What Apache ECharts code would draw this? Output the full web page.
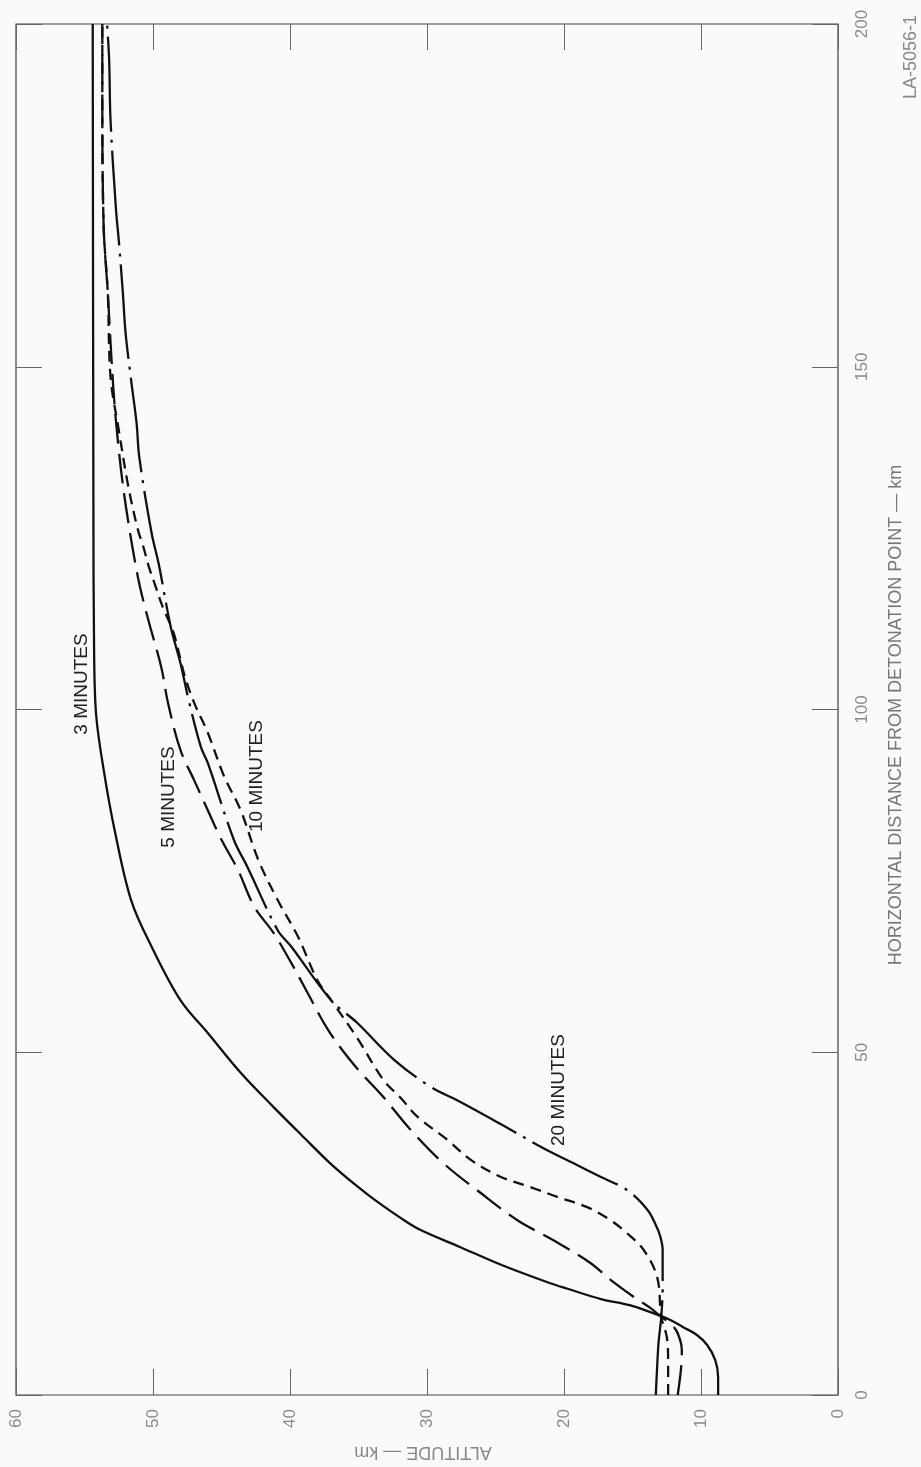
<!DOCTYPE html>
<html><head><meta charset="utf-8">
<script src="https://cdn.jsdelivr.net/npm/echarts@6/dist/echarts.min.js"></script>
<style>html,body{margin:0;padding:0;background:#fafafa}#c{width:921px;height:1467px}</style>
</head><body><div id="c"></div>
<script>
// Axis tick values
const altitudeTicks = [0, 10, 20, 30, 40, 50, 60];        // ALTITUDE — km
const distanceTicks = [0, 50, 100, 150, 200];             // HORIZONTAL DISTANCE — km
const curveLabels = ['3 MINUTES', '5 MINUTES', '10 MINUTES', '20 MINUTES'];

// Each point: [altitude km, horizontal distance km]
const min3 = [[8.75,0],[8.75,2.6],[8.96,5.1],[9.55,7.3],[10.3,8.75],[11.3,9.9],[12.5,11.2],[13.7,12.1],[15.2,13.1],[17.3,14.0],[19.75,15.5],[21.0,16.3],[24.6,19.0],[27.6,21.6],[30.5,24.1],[31.9,25.8],[34.3,29.2],[36.8,33.3],[39.2,38.0],[41.2,42.0],[43.6,47.0],[46.0,52.8],[48.0,57.6],[50.1,65.4],[51.6,72.2],[52.8,82.4],[53.6,91.2],[54.15,99.2],[54.3,108.7],[54.35,130],[54.4,200]];
const min5 = [[11.7,0],[11.45,4],[11.4,6.5],[11.7,9],[12.2,10.4],[12.9,11.4],[13.7,12.7],[14.9,14.3],[16.6,16.8],[18.1,19.3],[20.8,22.6],[23.4,25.5],[26.1,29.5],[28.8,33.8],[31.2,38.7],[33.2,43.5],[35.3,48.1],[37.2,53.2],[38.7,58.6],[39.9,63.0],[41.2,67.4],[42.6,71.2],[43.8,76.6],[45.0,81.0],[46.0,85.3],[47.0,89.7],[48.0,94.1],[48.9,100.9],[49.4,106.2],[50.4,113.5],[51.1,119.3],[51.97,129.5],[52.5,137.9],[52.9,147],[53.3,160.8],[53.6,170.4],[53.7,189],[53.7,200]];
const min10 = [[12.4,0],[12.4,5.1],[12.5,8.5],[12.9,11.4],[13.2,17.2],[14.2,21.2],[15.4,23.6],[16.6,25.5],[18.3,27.4],[20.5,28.9],[22.4,30.3],[24.6,31.8],[26.8,34.3],[28.5,37.2],[30.7,40.6],[31.9,43.3],[33.2,46.0],[35.1,52.1],[37.0,57.6],[38.0,60.5],[39.4,66.8],[40.9,72.2],[42.3,78.0],[43.6,85.3],[44.8,90.2],[46.0,96.6],[47.0,101],[47.7,105],[48.5,111.2],[49.3,115],[49.8,117.9],[50.3,120.8],[50.7,123.7],[51.1,126.2],[51.8,132.5],[52.5,140.8],[53.1,148.5],[53.3,160.8],[53.6,170.4],[53.7,189],[53.7,200]];
const min20 = [[13.3,0],[13.2,4.1],[13.1,7.6],[12.9,11.4],[12.8,15.8],[12.8,21.2],[13.0,23.3],[13.3,24.8],[13.9,27.0],[15.4,29.9],[17.3,31.8],[19.3,33.8],[21.5,36.0],[24.6,39.5],[27.8,43.0],[29.7,44.9],[32.4,48.9],[35.1,54.3],[37.0,57.6],[39.9,65.4],[40.9,67.8],[43.1,77.0],[44.1,81],[46.0,92.2],[46.5,94.5],[47.4,101.4],[48.0,106.8],[48.7,112],[49.6,121.4],[50.1,125.7],[51.0,136.8],[51.2,141.8],[51.6,148.1],[52.0,154.9],[52.2,160.8],[52.5,168.5],[52.7,172.9],[53.1,186],[53.2,194.7],[53.35,200]];

const FONT = 'Liberation Sans, Arial, sans-serif';
const chart = echarts.init(document.getElementById('c'), null, {renderer: 'canvas'});

const altMin = altitudeTicks[0], altMax = altitudeTicks[altitudeTicks.length - 1];
const altInt = altitudeTicks[1] - altitudeTicks[0];
const disMin = distanceTicks[0], disMax = distanceTicks[distanceTicks.length - 1];
const disInt = distanceTicks[1] - distanceTicks[0];

const tickStyle = {show: true, inside: true, length: 26, lineStyle: {color: '#666', width: 1}};
const noLine = {show: false, onZero: false};
const labelStyle = {color: '#8a8a8a', fontSize: 17, fontFamily: FONT};

function lineSeries(name, data, type) {
  return {
    name, type: 'line', data, xAxisIndex: 0, yAxisIndex: 0,
    showSymbol: false, smooth: 0.35, animation: false,
    lineStyle: {color: '#111', width: 2.3, type: type, cap: 'butt'}
  };
}
function txt(text, x, y, rot, size, color) {
  return {type: 'text', x, y, rotation: rot, silent: true,
    style: {text, fontSize: size, fontFamily: FONT, fill: color, align: 'center', verticalAlign: 'middle'}};
}

chart.setOption({
  backgroundColor: '#fafafa',
  animation: false,
  grid: {left: 16, right: 83, top: 24, bottom: 72, show: true, borderColor: '#444', borderWidth: 1.2, backgroundColor: 'transparent'},
  xAxis: [
    {type: 'value', position: 'bottom', inverse: true, min: altMin, max: altMax, interval: altInt,
     axisLine: noLine, splitLine: {show: false}, axisTick: tickStyle,
     axisLabel: Object.assign({rotate: 90, margin: 14}, labelStyle)},
    {type: 'value', position: 'top', inverse: true, min: altMin, max: altMax, interval: altInt,
     axisLine: noLine, splitLine: {show: false}, axisTick: tickStyle, axisLabel: {show: false}}
  ],
  yAxis: [
    {type: 'value', position: 'right', min: disMin, max: disMax, interval: disInt,
     axisLine: noLine, splitLine: {show: false}, axisTick: tickStyle,
     axisLabel: Object.assign({rotate: 90, margin: 16}, labelStyle)},
    {type: 'value', position: 'left', min: disMin, max: disMax, interval: disInt,
     axisLine: noLine, splitLine: {show: false}, axisTick: tickStyle, axisLabel: {show: false}}
  ],
  series: [
    lineSeries(curveLabels[0], min3, 'solid'),
    lineSeries(curveLabels[1], min5, [30, 10]),
    lineSeries(curveLabels[2], min10, [11, 7]),
    lineSeries(curveLabels[3], min20, [95, 8, 3, 8])
  ],
  graphic: [
    txt(curveLabels[0], 82, 684, Math.PI / 2, 19, '#222'),
    txt(curveLabels[1], 169, 797, Math.PI / 2, 19, '#222'),
    txt(curveLabels[2], 257, 776, Math.PI / 2, 19, '#222'),
    txt(curveLabels[3], 559, 1090, Math.PI / 2, 19, '#222'),
    txt('HORIZONTAL DISTANCE FROM DETONATION POINT — km', 896, 715, Math.PI / 2, 18, '#777'),
    txt('ALTITUDE — km', 423, 1452, Math.PI, 18, '#888'),
    txt('LA-5056-1', 911, 57, Math.PI / 2, 18, '#888')
  ]
});
</script></body></html>
